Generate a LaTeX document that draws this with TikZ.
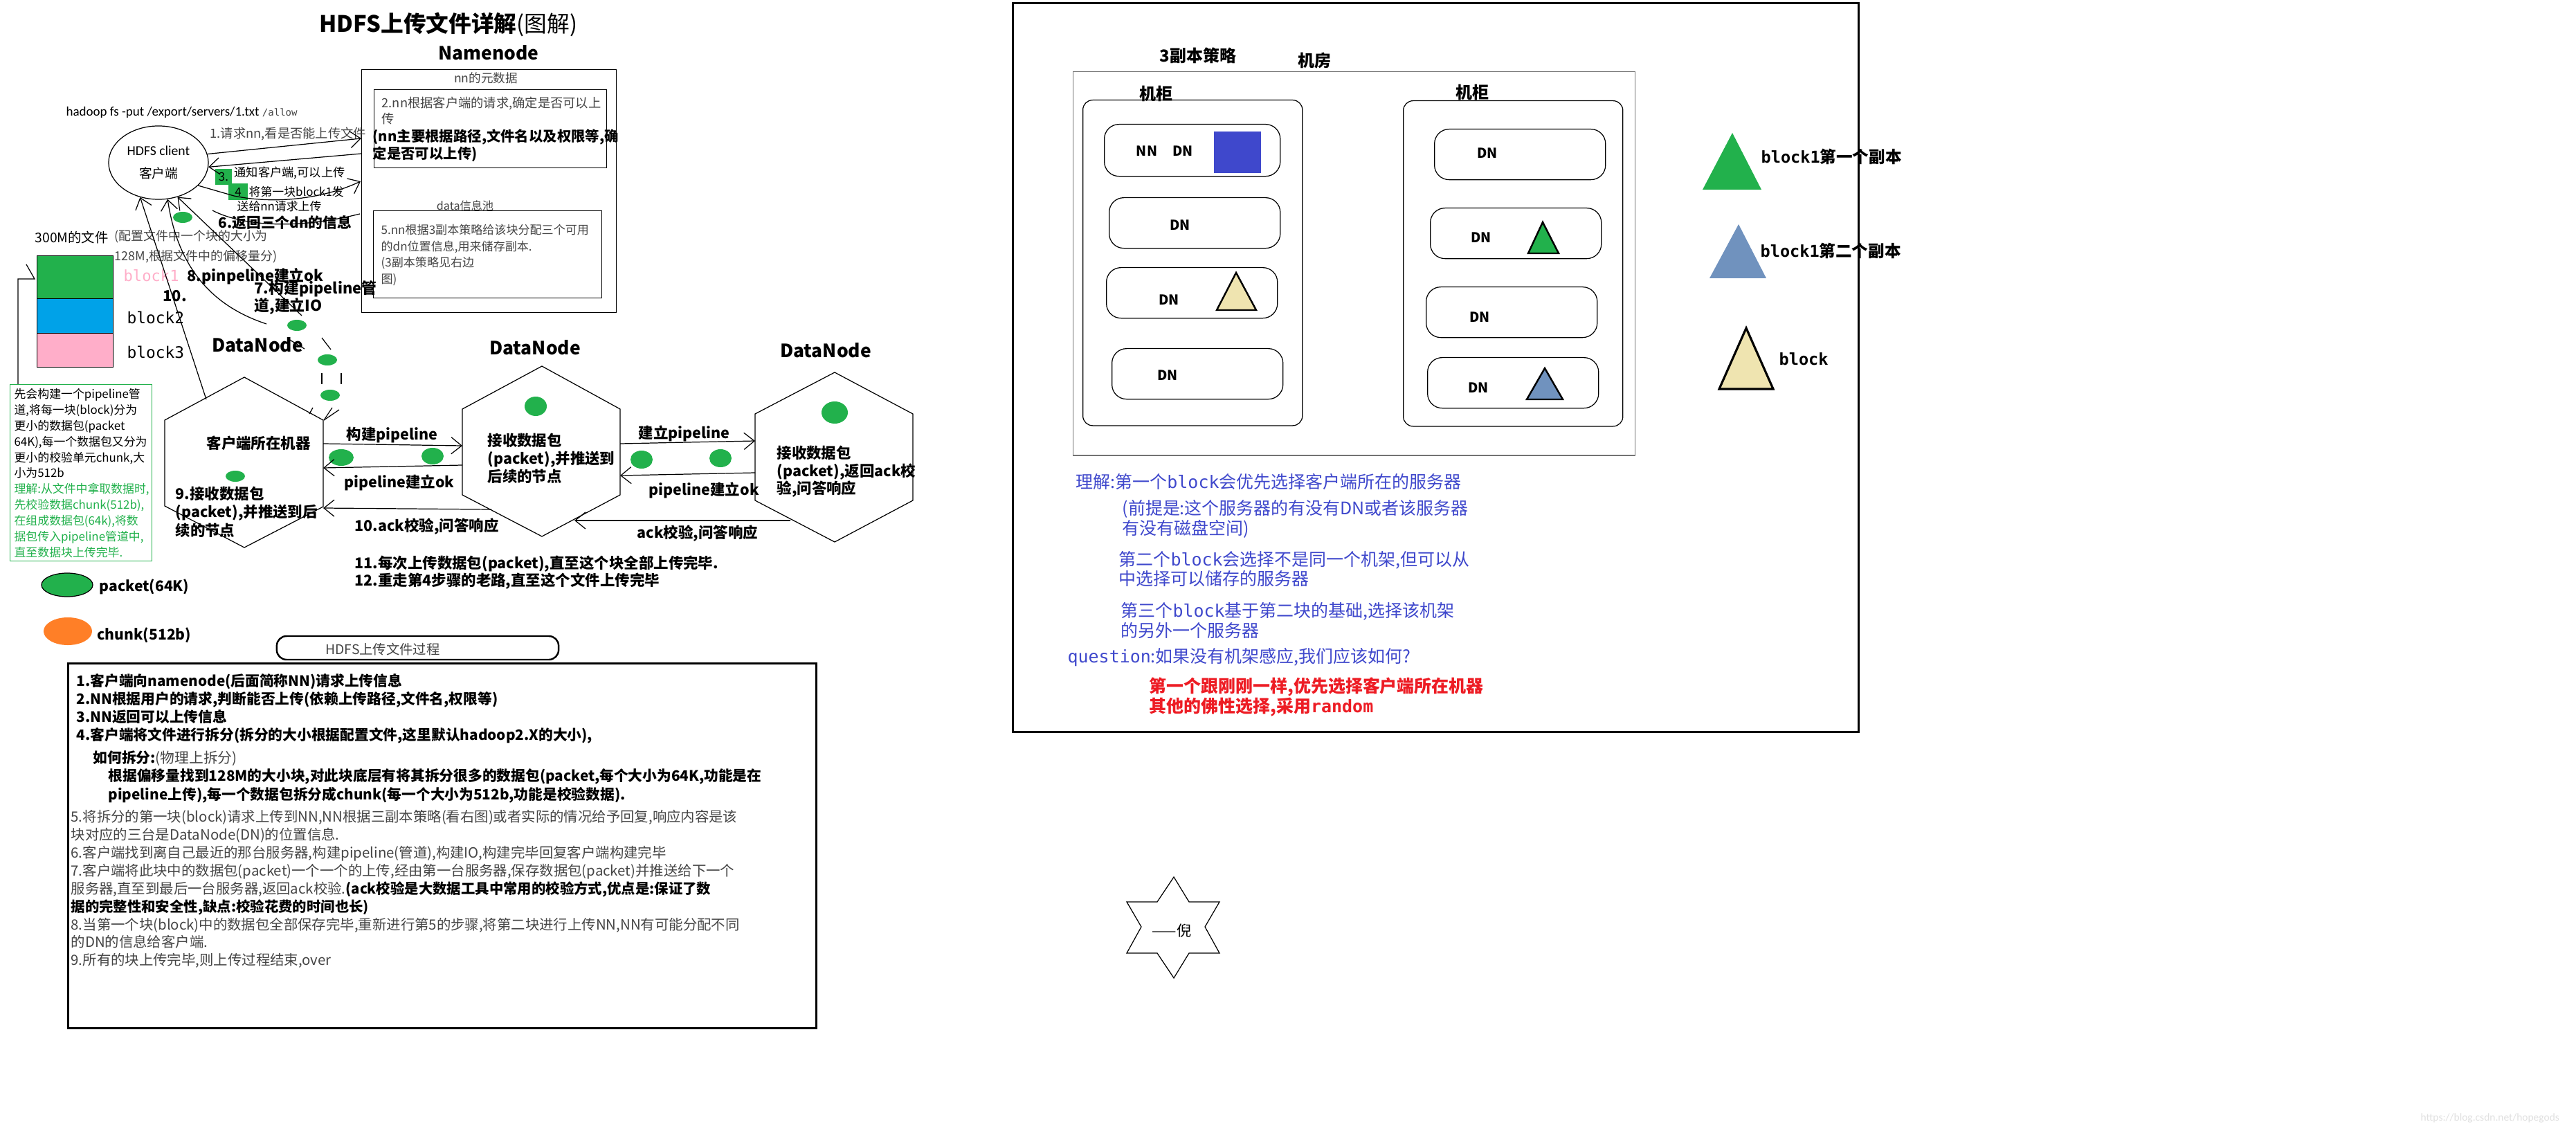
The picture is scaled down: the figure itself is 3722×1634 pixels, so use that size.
\documentclass[tikz,border=0pt]{standalone}
\usepackage{fontspec}
\setmainfont{Noto Sans CJK SC}
\newfontfamily\carlito{Carlito}
\newfontfamily\dmono{DejaVu Sans Mono}
\usetikzlibrary{arrows.meta,positioning,shapes.geometric,calc}
\definecolor{pgreen}{HTML}{22B14C}
\definecolor{pblue}{HTML}{00A2E8}
\definecolor{ppink}{HTML}{FFAEC9}
\definecolor{porange}{HTML}{FF7F27}
\definecolor{pindigo}{HTML}{3F48CC}
\definecolor{psteel}{HTML}{7092BE}
\definecolor{ptan}{HTML}{EFE4B0}
\definecolor{pred}{HTML}{ED1C24}
\definecolor{pgray}{HTML}{454545}
\newcommand\fsz[2]{\fontsize{#1}{#2}\selectfont}
\tikzset{
  lbl/.style={inner sep=0pt,anchor=west},
  boxframe/.style={draw,inner sep=0pt,anchor=north west},
  pkt/.style={ellipse,fill=pgreen,inner sep=0pt},
  arrow/.style={-{Straight Barb[length=1.5mm,width=2.4mm]}},
  rack/.style={draw,rounded corners=4pt,inner sep=0pt,anchor=north west,minimum width=3.17cm,minimum height=4.70cm},
  dnbox/.style={draw,rounded corners=6pt,inner sep=0pt,anchor=north west,minimum width=2.47cm,minimum height=0.73cm},
  dntext/.style={font=\bfseries\fsz{5.6}{7},inner sep=0pt},
  hexlbl/.style={lbl,font=\bfseries\fsz{6.1}{7}},
  bignode/.style={font=\bfseries\fsz{7.5}{9},inner sep=0pt}
}
\begin{document}
\begin{tikzpicture}[x=0.01cm,y=-0.01cm,line width=0.35pt]
\fill[white] (0,0) rectangle (3722,1634);
\useasboundingbox (0,0) rectangle (3722,1634);

% namenode part
\node[lbl,font=\fsz{9.3}{11}] (title) at (461,36) {\bfseries HDFS上传文件详解\mdseries(图解)};
\node[bignode] (nnlabel) at (706,76) {Namenode};
\node[boxframe,minimum width=3.68cm,minimum height=3.51cm] (nnbox) at (522,100) {};
\node[font=\fsz{5}{6},text=pgray,inner sep=0pt] (meta) at (702,113) {nn的元数据};
\node[boxframe,minimum width=3.36cm,minimum height=1.13cm] (metabox) at (540,129) {};
\node[lbl,align=left,font=\fsz{5.2}{6.8},text=pgray] (step2) at (551,160) {2.nn根据客户端的请求,确定是否可以上\\传};
\node[lbl,align=left,font=\bfseries\fsz{5.8}{7.1}] (step2b) at (538,210.5) {(nn主要根据路径,文件名以及权限等,确\\定是否可以上传)};
\node[font=\fsz{4.6}{6},text=pgray,inner sep=0pt] (pool) at (672,297) {data信息池};
\node[boxframe,minimum width=3.30cm,minimum height=1.26cm] (poolbox) at (539,304) {};
\node[lbl,align=left,font=\fsz{4.85}{6.75},text=pgray] (step5) at (550,368.5) {5.nn根据3副本策略给该块分配三个可用\\的dn位置信息,用来储存副本.\\(3副本策略见右边\\图)};

% client
\node[lbl,font=\fsz{5.4}{6}] (cmd) at (95,162) {\carlito hadoop fs -put /export/servers/1.txt {\dmono\fsz{4}{5}\color{pgray}/allow}};
\node[ellipse,draw,minimum width=1.44cm,minimum height=1.06cm,inner sep=0pt,align=center,font=\fsz{5.3}{9.2}] (client) at (229,235) {{\carlito\fsz{5.6}{9.2}HDFS client}\\客户端};
\node[lbl,font=\fsz{5.2}{6},text=pgray] (req) at (303,193) {1.请求nn,看是否能上传文件};
\node[fill=pgreen,minimum width=0.24cm,minimum height=0.23cm,inner sep=0pt,font=\fsz{4.8}{5}] (sq3) at (323,255.5) {3.};
\node[fill=pgreen,minimum width=0.28cm,minimum height=0.24cm,inner sep=0pt,font=\fsz{4.8}{5}] (sq4) at (344,277) {4};
\node[lbl,font=\fsz{4.9}{6}] (notice) at (338,250) {通知客户端,可以上传};
\node[lbl,font=\fsz{4.8}{6}] (send1) at (359,277) {将第一块block1发};
\node[lbl,font=\fsz{4.8}{6}] (send2) at (342,298) {送给nn请求上传};
\node[lbl,font=\bfseries\fsz{5.9}{7}] (ret) at (315,322) {6.返回三个dn的信息};
\node[pkt,minimum width=0.28cm,minimum height=0.16cm] (pk1) at (264,314) {};

\coordinate (nnA) at (522,200);
\coordinate (nnB) at (522,222);
\coordinate (nnC) at (521,262);
\coordinate (nnD) at (520,309);
\coordinate (retEnd) at (307,304);
\coordinate (sendBend) at (338,283);
\draw[arrow] (client.10) -- (nnA);
\draw[arrow] (nnB) -- (client.-5);
\draw[arrow] (client.-30) -- (sendBend) .. controls (400,296) and (470,286) .. (nnC);
\draw (retEnd) .. controls (345,324) and (420,334) .. (nnD);

% file and blocks
\node[lbl,font=\fsz{5.5}{6}] (file) at (50,343) {300M的文件};
\node[lbl,align=left,font=\fsz{5.1}{8.25},text=pgray] (fileinfo) at (165,356.5) {(配置文件中一个块的大小为\\128M,根据文件中的偏移量分)};
\node[boxframe,fill=pgreen,minimum width=1.10cm,minimum height=0.62cm] (blk1) at (53,369) {};
\node[boxframe,fill=pblue,minimum width=1.10cm,minimum height=0.50cm] (blk2) at (53,431) {};
\node[boxframe,fill=ppink,minimum width=1.10cm,minimum height=0.49cm] (blk3) at (53,481) {};
\node[lbl,font=\dmono\fsz{6.3}{7},text=ppink] (b1) at (178,398) {block1};
\node[lbl,font=\dmono\fsz{6.5}{7}] (b2) at (183,459) {block2};
\node[lbl,font=\dmono\fsz{6.5}{7}] (b3) at (183,509) {block3};
\node[lbl,font=\bfseries\fsz{6.2}{7}] (ok8) at (270,399) {8.pinpeline建立ok};
\node[lbl,align=left,font=\bfseries\fsz{6.2}{7.1}] (build7) at (367,430.5) {7.构建pipeline管\\道,建立IO};
\node[lbl,font=\bfseries\fsz{6.2}{7}] (ack10) at (235,428) {10.};

\node[boxframe,draw=pgreen,minimum width=2.05cm,minimum height=2.55cm] (notebox) at (14,555) {};
\node[lbl,align=left,font=\fsz{4.8}{6.5}] (notetext) at (20,683.5) {先会构建一个pipeline管\\道,将每一块(block)分为\\更小的数据包(packet\\64K),每一个数据包又分为\\更小的校验单元chunk,大\\小为512b\\\textcolor{pgreen}{理解:从文件中拿取数据时,}\\\textcolor{pgreen}{先校验数据chunk(512b),}\\\textcolor{pgreen}{在组成数据包(64k),将数}\\\textcolor{pgreen}{据包传入pipeline管道中,}\\\textcolor{pgreen}{直至数据块上传完毕.}};
\coordinate (brTop) at (38,382);
\coordinate (brMid) at (50,403);
\coordinate (brCorner) at (26,403);
\draw (brTop) -- (brMid) -- (brCorner) -- (brCorner |- notebox.north);

\node[pkt,draw=black,minimum width=0.74cm,minimum height=0.34cm] (legpkt) at (97,845) {};
\node[lbl,font=\bfseries\fsz{6}{7}] (legpkttext) at (143,848) {packet(64K)};
\node[ellipse,fill=porange,inner sep=0pt,minimum width=0.70cm,minimum height=0.40cm] (legchunk) at (98,912) {};
\node[lbl,font=\bfseries\fsz{6}{7}] (legchunktext) at (140,918) {chunk(512b)};

% datanodes
\draw (353,545) -- (467,607) -- (467,732) -- (353,791) -- (238,731) -- (238,607) -- cycle;
\draw (783,529) -- (896,591) -- (896,715) -- (783,775) -- (668,715) -- (668,591) -- cycle;
\draw (1206,538) -- (1319,598) -- (1319,723) -- (1206,783) -- (1091,723) -- (1091,598) -- cycle;
\node[bignode] (dn1) at (372,498) {DataNode};
\node[bignode] (dn2) at (773,502) {DataNode};
\node[bignode] (dn3) at (1193,506) {DataNode};
\node[hexlbl] (h1title) at (298,640) {客户端所在机器};
\node[hexlbl,align=left,font=\bfseries\fsz{6.1}{7.5}] (h1text) at (253,739.5) {9.接收数据包\\(packet),并推送到后\\续的节点};
\node[hexlbl,align=left,font=\bfseries\fsz{6.1}{7.4}] (h2text) at (704,662) {接收数据包\\(packet),并推送到\\后续的节点};
\node[hexlbl,align=left,font=\bfseries\fsz{6.1}{7.2}] (h3text) at (1122,681.5) {接收数据包\\(packet),返回ack校\\验,问答响应};
\node[pkt,minimum width=0.28cm,minimum height=0.16cm] (pk2) at (429,470) {};
\node[pkt,minimum width=0.28cm,minimum height=0.16cm] (pk3) at (473,520) {};
\node[pkt,minimum width=0.28cm,minimum height=0.16cm] (pk4) at (477,571) {};
\node[pkt,minimum width=0.28cm,minimum height=0.16cm] (pk5) at (340,688) {};
\node[pkt,minimum width=0.36cm,minimum height=0.24cm] (pk6) at (493,661) {};
\node[pkt,minimum width=0.32cm,minimum height=0.24cm] (pk7) at (625,659) {};
\node[pkt,minimum width=0.32cm,minimum height=0.28cm] (pk8) at (774,587) {};
\node[pkt,minimum width=0.32cm,minimum height=0.26cm] (pk9) at (927,664) {};
\node[pkt,minimum width=0.32cm,minimum height=0.26cm] (pk10) at (1041,662) {};
\node[pkt,minimum width=0.38cm,minimum height=0.32cm] (pk11) at (1206,596) {};

% client <-> first datanode
\coordinate (h1edge) at (298,577);
\coordinate (c8) at (385,468);
\coordinate (c7a) at (436,456);
\coordinate (k1) at (417,490);
\coordinate (k2) at (440,504);
\coordinate (k3) at (465,488);
\coordinate (k4) at (478,505);
\coordinate (k5) at (465,539);
\coordinate (k6) at (465,555);
\coordinate (k7) at (493,539);
\coordinate (k8) at (493,555);
\coordinate (k9) at (452,589);
\coordinate (k10) at (447,598);
\coordinate (k11) at (480,589);
\coordinate (k12) at (490,592);
\coordinate (h1v) at (468,607);
\draw[arrow] (h1edge) -- (client.-118);
\draw[arrow] (c8) .. controls (300,440) and (256,380) .. (client.-76);
\draw[arrow] (c7a) -- (client.-61);
\draw (k1) -- (k2);
\draw (k3) -- (k4);
\draw (k5) -- (k6);
\draw (k7) -- (k8);
\draw (k9) -- (k10);
\draw (k11) -- (h1v);
\draw (k12) -- (h1v);

% pipeline between datanodes
\coordinate (h1r1) at (467,641);
\coordinate (h2l1) at (668,644);
\coordinate (h2l2) at (668,672);
\coordinate (h1r2) at (467,676);
\coordinate (h2ack) at (710,736);
\coordinate (h1r3) at (467,734);
\coordinate (h2r1) at (896,641);
\coordinate (h3l1) at (1091,637);
\coordinate (h3l2) at (1091,683);
\coordinate (h2r2) at (896,687);
\coordinate (h3ack) at (1142,752);
\coordinate (h2ack2) at (830,752);
\draw[arrow] (h1r1) -- (h2l1);
\draw[arrow] (h2l2) -- (h1r2);
\draw[arrow] (h2ack) -- (h1r3);
\draw[arrow] (h2r1) -- (h3l1);
\draw[arrow] (h3l2) -- (h2r2);
\draw[arrow] (h3ack) -- (h2ack2);
\node[hexlbl] (pipe1) at (500,629) {构建pipeline};
\node[hexlbl] (pipeok1) at (497,697) {pipeline建立ok};
\node[hexlbl] (ackmsg1) at (512,761) {10.ack校验,问答响应};
\node[hexlbl] (pipe2) at (922,626) {建立pipeline};
\node[hexlbl] (pipeok2) at (937,708) {pipeline建立ok};
\node[hexlbl] (ackmsg2) at (920,771) {ack校验,问答响应};
\node[hexlbl] (step11) at (512,815) {11.每次上传数据包(packet),直至这个块全部上传完毕.};
\node[hexlbl] (step12) at (512,840) {12.重走第4步骤的老路,直至这个文件上传完毕};

% process box
\node[draw,rounded corners=4pt,line width=0.7pt,minimum width=4.07cm,minimum height=0.34cm,inner sep=0pt] (pill) at (603.5,936) {};
\node[font=\fsz{5.5}{6},inner sep=0pt,text=pgray] (pilltext) at (553,938) {HDFS上传文件过程};
\node[boxframe,line width=0.85pt,minimum width=10.80cm,minimum height=5.27cm] (stepsbox) at (97,957) {};
\node[lbl,align=left,font=\bfseries\fsz{5.9}{7.4}] (stepsA) at (110,1024) {1.客户端向namenode(后面简称NN)请求上传信息\\2.NN根据用户的请求,判断能否上传(依赖上传路径,文件名,权限等)\\3.NN返回可以上传信息\\4.客户端将文件进行拆分(拆分的大小根据配置文件,这里默认hadoop2.X的大小),};
\node[lbl,font=\fsz{5.9}{7}] (stepsB) at (134,1096) {{\bfseries 如何拆分:}{\color{pgray}(物理上拆分)}};
\node[lbl,align=left,font=\bfseries\fsz{5.9}{7.7}] (stepsC) at (156,1135.5) {根据偏移量找到128M的大小块,对此块底层有将其拆分很多的数据包(packet,每个大小为64K,功能是在\\pipeline上传),每一个数据包拆分成chunk(每一个大小为512b,功能是校验数据).};
\node[lbl,align=left,font=\fsz{5.8}{7.37}] (stepsD) at (102,1284.5) {{\color{pgray}5.将拆分的第一块(block)请求上传到NN,NN根据三副本策略(看右图)或者实际的情况给予回复,响应内容是该}\\{\color{pgray}块对应的三台是DataNode(DN)的位置信息.}\\{\color{pgray}6.客户端找到离自己最近的那台服务器,构建pipeline(管道),构建IO,构建完毕回复客户端构建完毕}\\{\color{pgray}7.客户端将此块中的数据包(packet)一个一个的上传,经由第一台服务器,保存数据包(packet)并推送给下一个}\\{\color{pgray}服务器,直至到最后一台服务器,返回ack校验.}{\bfseries(ack校验是大数据工具中常用的校验方式,优点是:保证了数}\\{\bfseries 据的完整性和安全性,缺点:校验花费的时间也长)}\\{\color{pgray}8.当第一个块(block)中的数据包全部保存完毕,重新进行第5的步骤,将第二块进行上传NN,NN有可能分配不同}\\{\color{pgray}的DN的信息给客户端.}\\{\color{pgray}9.所有的块上传完毕,则上传过程结束,over}};

% replica policy
\node[boxframe,line width=0.85pt,minimum width=12.21cm,minimum height=10.52cm] (rightbox) at (1462,3) {};
\node[boxframe,draw=black!55,minimum width=8.11cm,minimum height=5.54cm] (room) at (1550,103) {};
\node[font=\bfseries\fsz{6.8}{8},inner sep=0pt] (policy) at (1731,80) {3副本策略};
\node[font=\bfseries\fsz{6.8}{8},inner sep=0pt] (roomlabel) at (1899,88) {机房};
\node[rack] (rackL) at (1564,144) {};
\node[rack] (rackR) at (2027,145) {};
\node[font=\bfseries\fsz{6.8}{8},inner sep=0pt] (rackLlabel) at (1670,135) {机柜};
\node[font=\bfseries\fsz{6.8}{8},inner sep=0pt] (rackRlabel) at (2127,133) {机柜};
\node[dnbox,minimum width=2.54cm,minimum height=0.75cm] (dnL1) at (1595,179) {};
\node[dnbox] (dnL2) at (1602,285) {};
\node[dnbox] (dnL3) at (1598,386) {};
\node[dnbox] (dnL4) at (1606,503) {};
\node[dnbox] (dnR1) at (2072,186) {};
\node[dnbox] (dnR2) at (2066,300) {};
\node[dnbox] (dnR3) at (2060,414) {};
\node[dnbox] (dnR4) at (2062,516) {};
\node[dntext] (nnname) at (1657,218) {NN};
\node[dntext] (dnL1t) at (1709,218) {DN};
\node[dntext] (dnL2t) at (1705,325) {DN};
\node[dntext] (dnL3t) at (1689,433) {DN};
\node[dntext] (dnL4t) at (1687,542) {DN};
\node[dntext] (dnR1t) at (2149,221) {DN};
\node[dntext] (dnR2t) at (2140,343) {DN};
\node[dntext] (dnR3t) at (2138,458) {DN};
\node[dntext] (dnR4t) at (2136,560) {DN};
\node[fill=pindigo,minimum width=0.68cm,minimum height=0.60cm,inner sep=0pt] (nnsq) at (1788,220) {};
\filldraw[fill=ptan,line width=0.7pt] (1786,394) -- (1815,448) -- (1758,448) -- cycle;
\filldraw[fill=pgreen,line width=0.7pt] (2229,321) -- (2252,366) -- (2208,366) -- cycle;
\filldraw[fill=psteel,line width=0.7pt] (2232,532) -- (2258,577) -- (2206,577) -- cycle;

% legend
\fill[pgreen] (2503,192) -- (2545,274) -- (2460,274) -- cycle;
\fill[psteel] (2512,324) -- (2552,402) -- (2470,402) -- cycle;
\filldraw[fill=ptan,line width=0.9pt] (2523,474) -- (2562,562) -- (2484,562) -- cycle;
\node[lbl,font=\bfseries\fsz{6.7}{8}] (leg1) at (2544,226) {{\dmono block1}第一个副本};
\node[lbl,font=\bfseries\fsz{6.7}{8}] (leg2) at (2543,362) {{\dmono block1}第二个副本};
\node[lbl,font=\bfseries\fsz{6.7}{8}] (leg3) at (2570,519) {{\dmono block}};

% explanation
\node[lbl,font=\fsz{7.1}{8},text=pindigo] (why1) at (1554,696) {理解:第一个{\dmono block}会优先选择客户端所在的服务器};
\node[lbl,align=left,font=\fsz{7.1}{8.25},text=pindigo] (why1b) at (1621,749.5) {(前提是:这个服务器的有没有DN或者该服务器\\有没有磁盘空间)};
\node[lbl,align=left,font=\fsz{7.1}{8},text=pindigo] (why2) at (1616,822) {第二个{\dmono block}会选择不是同一个机架,但可以从\\中选择可以储存的服务器};
\node[lbl,align=left,font=\fsz{7.1}{8.25},text=pindigo] (why3) at (1619,896.5) {第三个{\dmono block}基于第二块的基础,选择该机架\\的另外一个服务器};
\node[lbl,font=\fsz{7.1}{8},text=pindigo] (question) at (1542,950) {{\dmono question}:如果没有机架感应,我们应该如何?};
\node[lbl,align=left,font=\bfseries\fsz{7.1}{8.25},text=pred] (answer) at (1660,1006.5) {第一个跟刚刚一样,优先选择客户端所在机器\\其他的佛性选择,采用{\dmono random}};

% signature
\draw (1696,1267) -- (1718,1303) -- (1762,1303) -- (1741,1339) -- (1762,1377) -- (1718,1377) -- (1696,1413) -- (1672,1377) -- (1628,1377) -- (1649,1339) -- (1628,1303) -- (1672,1303) -- cycle;
\node[font=\fsz{6}{8},inner sep=0pt] (signtext) at (1693,1345) {——倪};
\node[lbl,font=\carlito\fsz{4.4}{5},text=black!12] (wm) at (3497,1615) {https://blog.csdn.net/hopegods};
\end{tikzpicture}
\end{document}
